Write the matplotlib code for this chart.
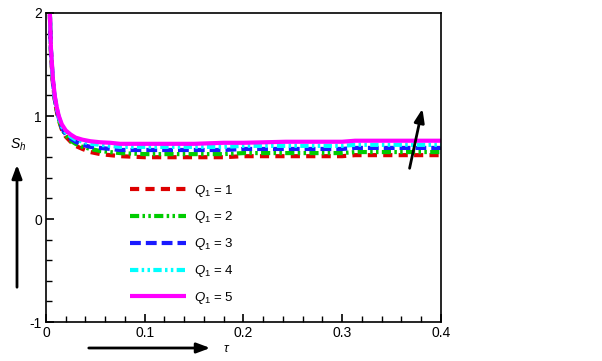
import matplotlib.pyplot as plt
import numpy as np

plt.rcParams['font.family'] = ['Liberation Sans', 'DejaVu Sans']
plt.rcParams['mathtext.fontset'] = 'custom'
plt.rcParams['mathtext.it'] = 'Liberation Sans:italic'
plt.rcParams['mathtext.rm'] = 'Liberation Sans'
plt.rcParams['axes.unicode_minus'] = False

# time points
tau = [0.003, 0.005, 0.007, 0.009, 0.011, 0.013, 0.016, 0.020, 0.025, 0.030,
       0.037, 0.045, 0.055, 0.065, 0.075, 0.10, 0.15, 0.18, 0.20, 0.243,
       0.30, 0.313, 0.35, 0.40]

s_q1 = [2.30, 1.62, 1.32, 1.15, 1.04, 0.96, 0.87, 0.80, 0.75, 0.71,
        0.68, 0.65, 0.63, 0.62, 0.61, 0.60, 0.60, 0.60, 0.61, 0.61,
        0.61, 0.62, 0.62, 0.62]
s_q2 = [2.30, 1.63, 1.33, 1.16, 1.05, 0.97, 0.88, 0.81, 0.76, 0.73,
        0.70, 0.68, 0.66, 0.65, 0.64, 0.63, 0.63, 0.63, 0.64, 0.64,
        0.64, 0.65, 0.65, 0.65]
s_q3 = [2.30, 1.64, 1.34, 1.17, 1.06, 0.98, 0.89, 0.82, 0.78, 0.75,
        0.72, 0.70, 0.69, 0.68, 0.67, 0.67, 0.67, 0.67, 0.68, 0.68,
        0.68, 0.69, 0.69, 0.69]
s_q4 = [2.30, 1.65, 1.35, 1.18, 1.07, 0.99, 0.90, 0.84, 0.80, 0.77,
        0.75, 0.73, 0.72, 0.71, 0.70, 0.70, 0.70, 0.70, 0.71, 0.71,
        0.71, 0.72, 0.72, 0.72]
s_q5 = [2.30, 1.66, 1.36, 1.19, 1.08, 1.00, 0.92, 0.86, 0.82, 0.79,
        0.77, 0.755, 0.745, 0.74, 0.73, 0.73, 0.73, 0.74, 0.74, 0.75,
        0.75, 0.76, 0.76, 0.76]

labels = ["$Q_1$ = 1", "$Q_1$ = 2", "$Q_1$ = 3", "$Q_1$ = 4", "$Q_1$ = 5"]
colors = ["#dd0000", "#00cc00", "#1a1aff", "#00ffff", "#ff00ff"]
dashes = [(2.2, 1.5), (2.2, 0.8, 0.6, 0.8, 0.6, 0.8), (2.6, 1.2),
          (2.0, 0.8, 0.6, 0.8, 0.6, 0.8), None]

fig = plt.figure(figsize=(6.02, 3.61), dpi=100)
ax = fig.add_axes([0.0764, 0.108, 0.656, 0.856])

for s, lab, c, d in zip([s_q1, s_q2, s_q3, s_q4, s_q5], labels, colors, dashes):
    line, = ax.plot(tau, s, color=c, lw=3.0, label=lab, solid_capstyle='butt')
    if d is not None:
        line.set_dashes(d)

ax.set_xlim(0, 0.4)
ax.set_ylim(-1, 2)
ax.set_xticks([0, 0.1, 0.2, 0.3, 0.4])
ax.set_xticklabels(["0", "0.1", "0.2", "0.3", "0.4"])
ax.set_yticks([-1, 0, 1, 2])
ax.set_yticklabels(["-1", "0", "1", "2"])
ax.set_xticks(np.arange(0, 0.401, 0.02), minor=True)
ax.set_yticks(np.arange(-1, 2.01, 0.2), minor=True)
ax.tick_params(which='both', direction='in', top=False, right=False,
               labelsize=10, pad=3)
ax.tick_params(which='major', length=6, width=1.2)
ax.tick_params(which='minor', length=4, width=1.0)
for sp in ax.spines.values():
    sp.set_linewidth(1.2)

ax.legend(loc='upper left', bbox_to_anchor=(0.20, 0.468), frameon=False,
          fontsize=9.5, handlelength=4.2, labelspacing=0.82, handletextpad=0.6,
          borderaxespad=0)

# direction arrows drawn in figure pixel space
W, H = 602, 361
def fp(x, y):
    return (x / W, 1 - y / H)

arrow = dict(arrowstyle='-|>,head_length=0.8,head_width=0.3', color='black', lw=2)
ax.annotate("", xy=fp(17, 162), xytext=fp(17, 290), xycoords='figure fraction',
            textcoords='figure fraction', arrowprops=arrow, annotation_clip=False)
ax.annotate("", xy=fp(213, 348), xytext=fp(86, 348), xycoords='figure fraction',
            textcoords='figure fraction', arrowprops=arrow, annotation_clip=False)
ax.annotate("", xy=fp(423, 106), xytext=fp(409, 171), xycoords='figure fraction',
            textcoords='figure fraction', arrowprops=arrow, annotation_clip=False)
fig.text(*fp(18, 145), "$S_h$", fontsize=10, ha='center', va='center')
fig.text(*fp(227, 348), r"$\tau$", fontsize=9, ha='center', va='center',
         family='DejaVu Serif')

plt.savefig('out.png', dpi=100)
